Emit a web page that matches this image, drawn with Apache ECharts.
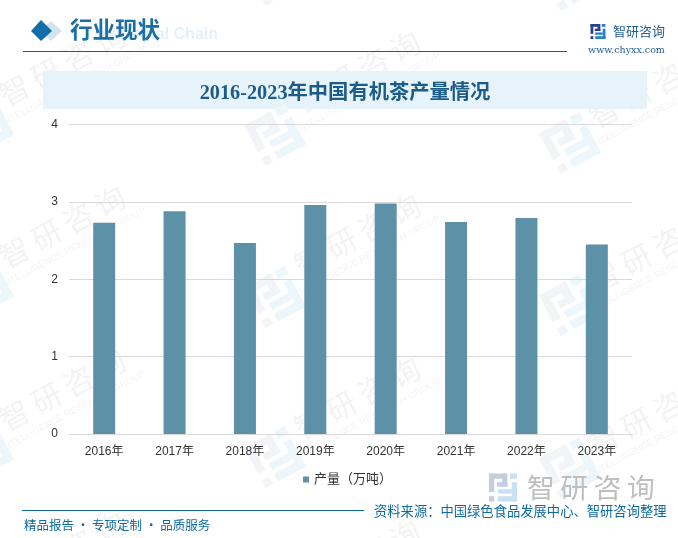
<!DOCTYPE html>
<html><head><meta charset="utf-8">
<style>html,body{margin:0;padding:0;background:#fff}#c{width:678px;height:538px}</style>
<script src="https://cdn.jsdelivr.net/npm/echarts@6/dist/echarts.min.js"></script>
</head><body><div id="c"></div>
<script>
const categories = ['2016年','2017年','2018年','2019年','2020年','2021年','2022年','2023年'];
const production = [2.73,2.88,2.47,2.96,2.98,2.74,2.79,2.45];
const seriesName = '产量（万吨）';
const chartTitle = '2016-2023年中国有机茶产量情况';
const sectionTitle = '行业现状';
const sourceText = '资料来源：中国绿色食品发展中心、智研咨询整理';
const sloganText = '精品报告 · 专项定制 · 品质服务';
const brandSpaced = '智\u2009研\u2009咨\u2009询';

const cjk = '"Liberation Sans","Noto Sans CJK SC",sans-serif';
const serif = '"Liberation Serif","Noto Sans CJK SC",serif';
const wmTexts = [[65,70],[360,77],[655,92],[65,232],[360,240],[655,256],[65,395],[360,403],[655,420],[65,558],[360,566],[655,584],[360,-86]];
const wmMarks = [[275,-25],[570,-20],[-17,125],[275,135],[570,143],[-17,287],[275,297],[570,305],[-17,450],[275,457],[570,468]];

function mark(cx,cy,s,c1,c2,rot,z){
  const u=s/16;
  const r=(a,b,w,h,f)=>({type:'rect',shape:{x:(a-8)*u,y:(b-8)*u,width:w*u,height:h*u},style:{fill:f}});
  return {type:'group',x:cx,y:cy,rotation:rot,z:z,silent:true,
    children:[r(0,0,10,3,c1),r(0,0,3,10.5,c1),r(7.5,0,3,7.5,c1),r(4.5,5,6,2.5,c1),r(0,13,3,3,c1),
      r(12,0,4,3,c2),r(13,5,3,11,c2),r(5,13,11,3,c2),r(5,9,8,2.5,c2)]};
}
const gfx=[];
wmTexts.forEach(p=>{
  gfx.push({type:'group',x:p[0],y:p[1],rotation:28*Math.PI/180,z:-5,silent:true,children:[
    {type:'text',z:-5,style:{text:brandSpaced,x:0,y:-6,align:'center',verticalAlign:'middle',font:'30px "Noto Sans CJK SC"',fill:'#f3f3f3'}},
    {type:'text',z:-5,style:{text:'INTELLIGENCE RESEARCH GROUP',x:0,y:18,align:'center',verticalAlign:'middle',font:'9.5px "Liberation Sans"',fill:'#f4f4f4'}}
  ]});
});
wmMarks.forEach(p=>gfx.push(mark(p[0],p[1],46,'#f2f4f8','#ecf6fb',28*Math.PI/180,-5)));
gfx.push(
  {type:'text',z:1,silent:true,style:{text:'Industrial Chain',x:218,y:35,align:'right',verticalAlign:'middle',font:'bold 16px "Liberation Sans"',fill:'#e3f1fa'}},
  {type:'polygon',z:2,silent:true,shape:{points:[[51,21],[62,31],[51,41],[40,31]]},style:{fill:'#d3e4ee'}},
  {type:'polygon',z:3,silent:true,shape:{points:[[41,20],[52,31],[41,41],[31,31]]},style:{fill:'#126ea8'}},
  {type:'text',z:3,silent:true,style:{text:sectionTitle,x:70,y:29,verticalAlign:'middle',font:'bold 22.5px "Noto Sans CJK SC"',fill:'#1c6fa5'}},
  {type:'line',z:3,silent:true,shape:{x1:23,y1:51.5,x2:567,y2:51.5},style:{stroke:'#1a5f8a',lineWidth:1}},
  mark(598,31.5,15,'#2a3f8f','#2b83c6',0,3),
  {type:'text',z:3,silent:true,style:{text:'智研咨询',x:613,y:31,verticalAlign:'middle',font:'13px "Noto Sans CJK SC"',fill:'#245f96'}},
  {type:'text',z:3,silent:true,style:{text:'www.chyxx.com',x:588,y:51,verticalAlign:'middle',font:'9.5px "DejaVu Serif"',fill:'#245f96'}},
  {type:'rect',z:-3,silent:true,shape:{x:43,y:71,width:604,height:38},style:{fill:'#e6f3fb'}},
  {type:'text',z:3,silent:true,style:{text:chartTitle,x:345,y:93.5,align:'center',verticalAlign:'middle',font:'bold 20.3px '+serif,fill:'#1b5c88'}},
  mark(503,487.5,28,'#c5cdde','#c8e0f2',0,3),
  {type:'text',z:3,silent:true,style:{text:brandSpaced,x:527,y:487,verticalAlign:'middle',font:'27.8px "Noto Sans CJK SC"',fill:'#bfbfbf'}},
  {type:'line',z:3,silent:true,shape:{x1:22,y1:510.5,x2:364,y2:510.5},style:{stroke:'#0f6aa0',lineWidth:1}},
  {type:'text',z:3,silent:true,style:{text:sloganText,x:24,y:525,verticalAlign:'middle',font:'12.5px "Noto Sans CJK SC"',fill:'#0f6aa0'}},
  {type:'text',z:3,silent:true,style:{text:sourceText,x:374,y:511,verticalAlign:'middle',font:'13.3px "Noto Sans CJK SC"',fill:'#0f6aa0'}}
);

const chart=echarts.init(document.getElementById('c'),null,{renderer:'canvas'});
chart.setOption({
  animation:false,
  backgroundColor:'#fff',
  textStyle:{fontFamily:cjk},
  grid:{left:69,right:46,top:124.5,bottom:104,containLabel:false},
  legend:{show:true,left:298,top:468,itemWidth:6,itemHeight:6,itemGap:3,icon:'rect',
    textStyle:{fontSize:13,color:'#333',fontFamily:cjk},data:[seriesName]},
  xAxis:{type:'category',data:categories,
    axisLine:{lineStyle:{color:'#d9d9d9'}},axisTick:{show:false},
    axisLabel:{fontSize:12,color:'#333',margin:12,fontFamily:cjk}},
  yAxis:{type:'value',min:0,max:4,interval:1,
    axisLine:{show:false},axisTick:{show:false},
    splitLine:{lineStyle:{color:'#d9d9d9',width:1}},
    axisLabel:{fontSize:12,color:'#333',margin:11,padding:[4,0,0,0],fontFamily:cjk}},
  series:[{name:seriesName,type:'bar',data:production,barWidth:22,itemStyle:{color:'#5d91a8'}}],
  graphic:{elements:gfx}
});
</script></body></html>
